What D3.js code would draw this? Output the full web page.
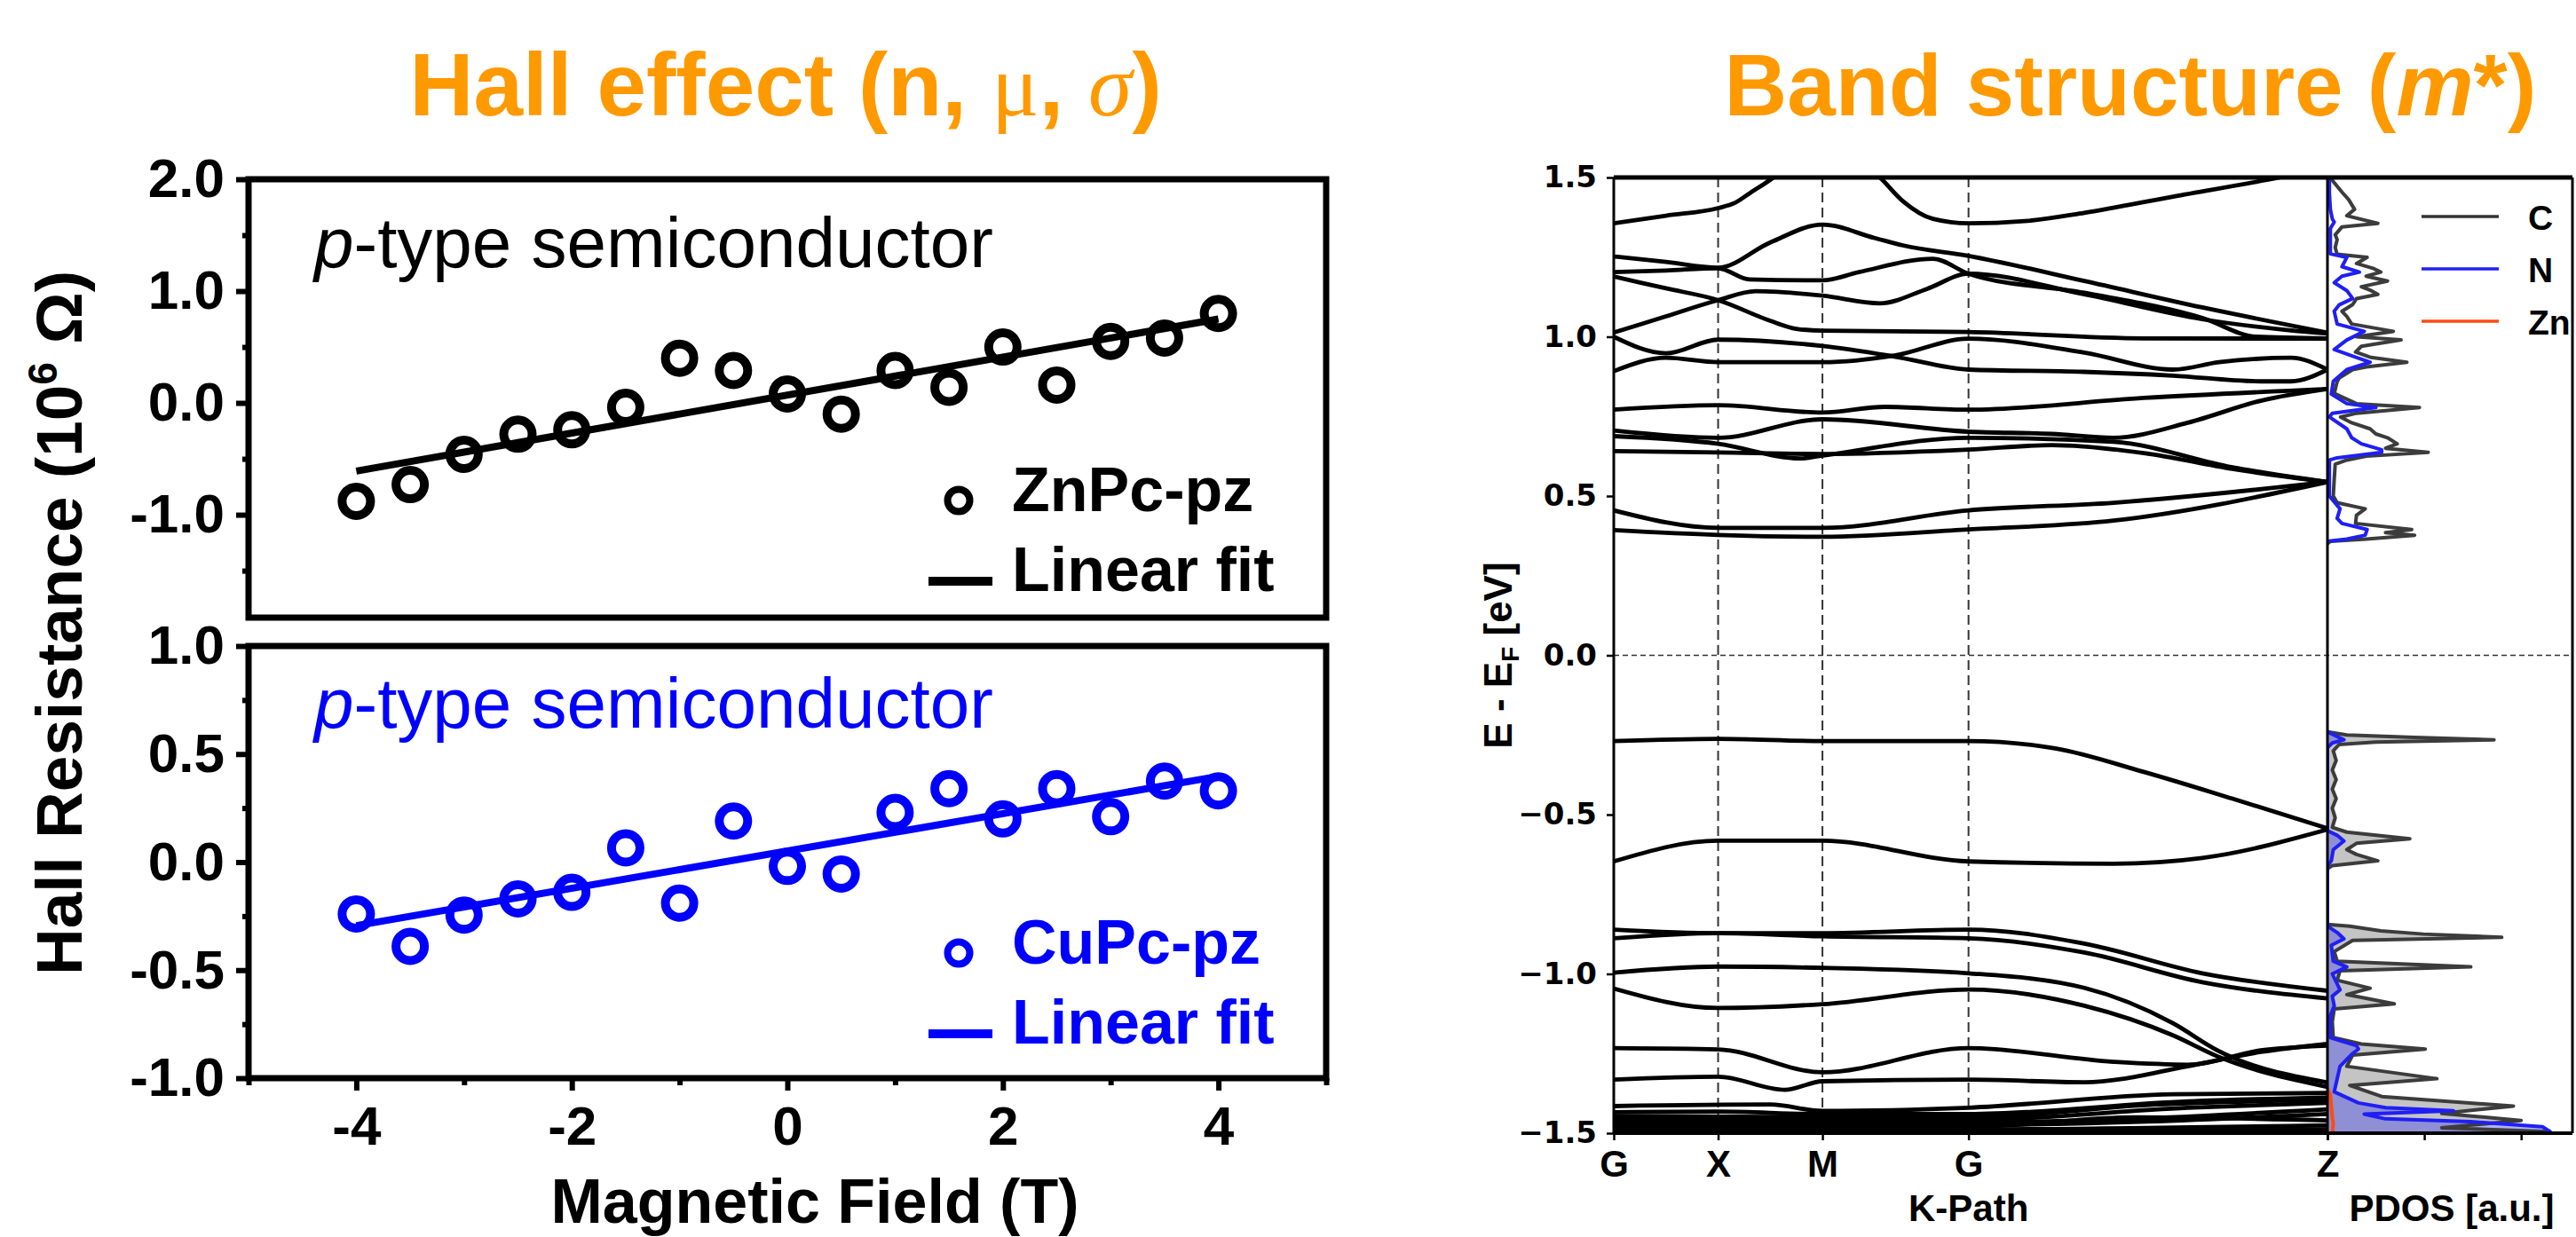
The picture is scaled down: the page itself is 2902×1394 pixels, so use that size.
<!DOCTYPE html>
<html>
<head>
<meta charset="utf-8">
<script src="https://cdn.jsdelivr.net/npm/d3@7"></script>
<style>
  body { margin: 0; background: #fff; }
  svg { display: block; }
</style>
</head>
<body>
<svg id="figure"></svg>
<script>
// ---- Hall effect data ----
const fieldT = [-4, -3.5, -3, -2.5, -2, -1.5, -1, -0.5, 0, 0.5, 1, 1.5, 2, 2.5, 3, 3.5, 4];
const hallZnPc = [-0.88, -0.73, -0.46, -0.28, -0.24, -0.04, 0.40, 0.29, 0.08, -0.10, 0.29, 0.14, 0.50, 0.16, 0.55, 0.58, 0.80];
const hallCuPc = [-0.24, -0.39, -0.245, -0.17, -0.14, 0.066, -0.19, 0.19, -0.02, -0.055, 0.23, 0.34, 0.20, 0.34, 0.21, 0.375, 0.33];
const fitRange = [-4, 4];
const fitZnPc = [-0.61, 0.75];
const fitCuPc = [-0.294, 0.397];
const fieldMajor = [-4, -2, 0, 2, 4];
const fieldMinor = [-5, -3, -1, 1, 3, 5];

// ---- band structure data: [k, E] points, k-path G X M G Z ----
const kNodes = [0, 1, 2, 3.4, 6.84];
const kLabels = ["G", "X", "M", "G", "Z"];
const energyTicks = [-1.5, -1.0, -0.5, 0, 0.5, 1.0, 1.5];
const bandsConduction = [
  [[0,1.356],[0.5,1.38],[1,1.404],[1.16,1.42],[1.3,1.45],[1.53,1.50],[1.75,1.56],[2.2,1.58],[2.55,1.50],[2.77,1.426],[3.06,1.37],[3.4,1.356],[3.94,1.363],[4.51,1.389],[5.36,1.44],[6.38,1.50],[6.84,1.53]],
  [[0,1.252],[0.5,1.235],[1,1.217],[1.5,1.296],[2,1.352],[2.5,1.31],[2.77,1.287],[3.4,1.254],[4.51,1.175],[5.64,1.092],[6.84,1.013]],
  [[0,1.203],[0.5,1.208],[1,1.215],[1.3,1.18],[2,1.177],[2.35,1.203],[3.06,1.245],[3.4,1.198],[4.51,1.138],[5.64,1.059],[6.16,1.0],[6.84,0.995]],
  [[0,1.189],[0.5,1.152],[1,1.115],[1.5,1.05],[1.75,1.025],[2,1.019],[3.4,1.015],[5.08,0.995],[6.84,0.994]],
  [[0,1.013],[0.5,1.064],[1,1.115],[1.36,1.143],[2,1.129],[2.55,1.105],[3.0,1.15],[3.4,1.198],[4.51,1.133],[5.64,1.055],[6.49,1.02],[6.84,1.01]],
  [[0,1.0],[0.5,0.948],[1,0.991],[2,0.971],[2.69,0.938],[3.4,0.897],[4.5,0.89],[5.36,0.878],[6.21,0.86],[6.49,0.86],[6.84,0.897]],
  [[0,0.892],[0.5,0.934],[1,0.92],[2,0.92],[2.69,0.941],[3.4,0.994],[4.51,0.95],[5.36,0.897],[5.8,0.92],[6.49,0.934],[6.84,0.897]],
  [[0,0.771],[1,0.785],[2,0.762],[2.6,0.78],[3.4,0.771],[5.08,0.808],[6.84,0.836]],
  [[0,0.706],[1,0.683],[2,0.741],[3.4,0.702],[4.2,0.695],[4.79,0.683],[5.5,0.73],[6.21,0.80],[6.84,0.836]],
  [[0,0.688],[1,0.664],[1.79,0.618],[2,0.627],[3.4,0.683],[4.79,0.67],[5.93,0.59],[6.84,0.544]],
  [[0,0.641],[1,0.637],[2,0.632],[3.4,0.646],[4.2,0.66],[5.08,0.635],[5.93,0.585],[6.84,0.544]],
  [[0,0.455],[1,0.40],[2,0.40],[3.4,0.455],[4.79,0.479],[6.84,0.544]],
  [[0,0.393],[1,0.378],[2,0.372],[3.4,0.395],[4.79,0.423],[6.84,0.544]]
];
const bandsValence = [
  [[0,-0.269],[1,-0.262],[2,-0.269],[3.4,-0.269],[4.23,-0.292],[5.08,-0.366],[5.93,-0.45],[6.84,-0.543]],
  [[0,-0.647],[1,-0.582],[2,-0.582],[3.4,-0.647],[4.79,-0.654],[5.64,-0.636],[6.84,-0.547]],
  [[0,-0.861],[1,-0.872],[2,-0.872],[3.4,-0.861],[4.51,-0.905],[5.64,-0.998],[6.84,-1.053]],
  [[0,-0.888],[1,-0.872],[2,-0.882],[3.4,-0.888],[4.51,-0.933],[5.64,-1.026],[6.84,-1.077]],
  [[0,-0.996],[1,-0.977],[2,-0.981],[3.4,-0.998],[4.51,-1.044],[5.36,-1.155],[5.78,-1.239],[6.84,-1.341]],
  [[0,-1.046],[1,-1.107],[2,-1.095],[3.4,-1.049],[4.51,-1.1],[5.36,-1.193],[5.78,-1.258],[6.84,-1.355]],
  [[0,-1.233],[1,-1.237],[2,-1.309],[3.4,-1.233],[4.79,-1.276],[5.5,-1.285],[6.2,-1.24],[6.84,-1.225]],
  [[0,-1.332],[1,-1.323],[1.64,-1.364],[2,-1.337],[3.4,-1.332],[4.51,-1.34],[5.5,-1.29],[6.2,-1.245],[6.84,-1.22]],
  [[0,-1.415],[1.5,-1.41],[2,-1.43],[3.4,-1.42],[5.36,-1.378],[6.84,-1.374]],
  [[0,-1.434],[1,-1.432],[2,-1.44],[3.4,-1.44],[5.5,-1.40],[6.84,-1.388]],
  [[0,-1.446],[2,-1.45],[3.4,-1.45],[5.2,-1.41],[6.84,-1.395]],
  [[0,-1.454],[3.4,-1.458],[5.5,-1.42],[6.84,-1.405]],
  [[0,-1.462],[3.4,-1.466],[6.84,-1.425]],
  [[0,-1.47],[3.4,-1.474],[6.84,-1.44]],
  [[0,-1.478],[3.4,-1.48],[5,-1.45],[6.84,-1.46]],
  [[0,-1.486],[3.4,-1.488],[6.84,-1.475]],
  [[0,-1.494],[3.4,-1.494],[6.84,-1.488]],
  [[0,-1.499],[6.84,-1.497]]
];

// ---- PDOS data: [E, density] ----
const pdosCondC = [[1.5,0.05],[1.491,0.05],[1.454,0.15],[1.43,0.22],[1.40,0.28],[1.38,0.2],[1.356,0.52],[1.345,0.15],[1.32,0.08],[1.305,0.1],[1.28,0.08],[1.259,0.1],[1.249,0.41],[1.23,0.3],[1.215,0.47],[1.203,0.55],[1.19,0.4],[1.175,0.62],[1.157,0.35],[1.145,0.45],[1.133,0.52],[1.12,0.3],[1.101,0.26],[1.08,0.15],[1.064,0.2],[1.04,0.25],[1.017,0.68],[1.0,0.3],[0.99,0.76],[0.97,0.35],[0.952,0.29],[0.935,0.45],[0.92,0.82],[0.905,0.4],[0.897,0.26],[0.87,0.12],[0.859,0.1],[0.822,0.07],[0.79,0.3],[0.778,0.95],[0.76,0.3],[0.748,0.135],[0.73,0.25],[0.711,0.44],[0.695,0.5],[0.683,0.62],[0.664,0.72],[0.65,0.6],[0.637,1.04],[0.625,0.4],[0.613,0.2],[0.6,0.08],[0.553,0.07],[0.5,0.06],[0.479,0.1],[0.46,0.39],[0.44,0.3],[0.414,0.29],[0.395,0.87],[0.385,0.6],[0.377,0.90],[0.365,0.4],[0.358,0.03],[0.35,0]];
const pdosCondN = [[1.5,0.02],[1.45,0.02],[1.4,0.03],[1.37,0.05],[1.36,0.07],[1.34,0.03],[1.26,0.03],[1.249,0.2],[1.22,0.15],[1.203,0.33],[1.19,0.15],[1.17,0.07],[1.145,0.2],[1.12,0.26],[1.1,0.12],[1.08,0.07],[1.04,0.1],[1.017,0.38],[0.99,0.2],[0.96,0.07],[0.935,0.3],[0.92,0.44],[0.897,0.2],[0.86,0.06],[0.82,0.04],[0.79,0.2],[0.778,0.5],[0.76,0.05],[0.748,0.02],[0.711,0.2],[0.683,0.25],[0.664,0.35],[0.645,0.56],[0.637,0.56],[0.62,0.1],[0.613,0.02],[0.5,0.02],[0.46,0.13],[0.43,0.1],[0.414,0.15],[0.395,0.41],[0.377,0.39],[0.365,0.2],[0.358,0]];
const pdosValC = [[-0.24,0],[-0.25,0.2],[-0.258,0.9],[-0.265,1.72],[-0.272,0.5],[-0.28,0.12],[-0.3,0.06],[-0.33,0.09],[-0.36,0.05],[-0.39,0.09],[-0.42,0.05],[-0.45,0.09],[-0.48,0.05],[-0.51,0.08],[-0.54,0.05],[-0.555,0.2],[-0.576,0.85],[-0.59,0.3],[-0.61,0.2],[-0.625,0.3],[-0.645,0.52],[-0.66,0.05],[-0.67,0],[-0.845,0],[-0.85,0.23],[-0.865,0.55],[-0.875,0.99],[-0.885,1.80],[-0.895,0.26],[-0.93,0.07],[-0.96,0.1],[-0.978,1.48],[-0.99,0.13],[-1.02,0.1],[-1.045,0.44],[-1.065,0.2],[-1.094,0.69],[-1.11,0.07],[-1.15,0.05],[-1.2,0.06],[-1.22,0.35],[-1.236,1.01],[-1.255,0.26],[-1.29,0.2],[-1.329,1.13],[-1.35,0.23],[-1.385,0.56],[-1.415,1.92],[-1.438,1.18],[-1.46,2.0],[-1.483,1.18],[-1.495,2.28],[-1.5,2.3]];
const pdosValN = [[-0.24,0],[-0.255,0.1],[-0.265,0.17],[-0.275,0.05],[-0.29,0],[-0.55,0],[-0.565,0.1],[-0.583,0.17],[-0.61,0.06],[-0.645,0.04],[-0.66,0],[-0.85,0],[-0.87,0.1],[-0.89,0.17],[-0.91,0.04],[-0.96,0.06],[-0.978,0.2],[-1.0,0.05],[-1.05,0.13],[-1.07,0.05],[-1.1,0.07],[-1.13,0.03],[-1.2,0.03],[-1.225,0.3],[-1.236,0.32],[-1.25,0.26],[-1.29,0.13],[-1.33,0.1],[-1.37,0.07],[-1.405,0.32],[-1.42,0.6],[-1.43,1.3],[-1.44,0.38],[-1.455,0.6],[-1.464,1.48],[-1.48,2.22],[-1.495,2.3],[-1.5,2.3]];
const pdosValZn = [[-1.36,0],[-1.38,0.03],[-1.45,0.05],[-1.47,0.06],[-1.5,0.05]];
const pdosTicks = [0, 1, 2];
const pdosLegend = ["C", "N", "Zn"];

const FONT = "'Liberation Sans', Arial, Helvetica, sans-serif";
const ORANGE = "#ff9900";

const svg = d3.select("#figure")
              .attr("width", 2902)
              .attr("height", 1394)
              .attr("font-family", FONT);

// ---- titles ----
const hallTitle = svg.append("text")
                     .attr("x", 885).attr("y", 130)
                     .attr("text-anchor", "middle")
                     .attr("font-size", 100).attr("font-weight", "bold")
                     .attr("fill", ORANGE);
hallTitle.append("tspan").text("Hall effect (n, ");
hallTitle.append("tspan").attr("font-family", "'Liberation Serif', serif").attr("font-weight", "normal").text("\u03bc");
hallTitle.append("tspan").text(", ");
hallTitle.append("tspan").attr("font-family", "'Liberation Serif', serif").attr("font-style", "italic").attr("font-weight", "normal").text("\u03c3");
hallTitle.append("tspan").text(")");

const bandTitle = svg.append("text")
                     .attr("x", 2400).attr("y", 130)
                     .attr("text-anchor", "middle")
                     .attr("font-size", 98).attr("font-weight", "bold")
                     .attr("fill", ORANGE);
bandTitle.append("tspan").text("Band structure (");
bandTitle.append("tspan").attr("font-style", "italic").text("m");
bandTitle.append("tspan").text("*)");

// ---- Hall panels ----
const xField = d3.scaleLinear().domain([-5, 5]).range([280, 1494]);

function hallPanel(cfg) {
    const y = d3.scaleLinear().domain(cfg.domain).range([cfg.bottom, cfg.top]);
    const g = svg.append("g");

    const majorAxis = g.append("g")
                       .attr("transform", `translate(${xField.range()[0]},0)`)
                       .call(d3.axisLeft(y).tickValues(cfg.majors).tickFormat(d => d.toFixed(1)).tickSize(14).tickPadding(13));
    majorAxis.select(".domain").remove();
    majorAxis.selectAll("line").attr("stroke-width", 6);
    majorAxis.selectAll("text")
             .attr("font-size", 62).attr("font-weight", "bold")
             .attr("font-family", FONT).attr("fill", "#000");

    const minorAxis = g.append("g")
                       .attr("transform", `translate(${xField.range()[0]},0)`)
                       .call(d3.axisLeft(y).tickValues(cfg.minors).tickFormat("").tickSize(7));
    minorAxis.select(".domain").remove();
    minorAxis.selectAll("line").attr("stroke-width", 6);

    // fit line
    g.append("line")
     .attr("x1", xField(fitRange[0])).attr("x2", xField(fitRange[1]))
     .attr("y1", y(cfg.fit[0])).attr("y2", y(cfg.fit[1]))
     .attr("stroke", cfg.color).attr("stroke-width", 8);

    g.append("g")
     .selectAll("circle")
     .data(fieldT.map((t, i) => [t, cfg.values[i]]))
     .join("circle")
     .attr("cx", d => xField(d[0]))
     .attr("cy", d => y(d[1]))
     .attr("r", 16)
     .attr("fill", "none")
     .attr("stroke", cfg.color)
     .attr("stroke-width", 10);

    g.append("rect")
     .attr("x", xField.range()[0]).attr("y", cfg.top)
     .attr("width", xField.range()[1] - xField.range()[0])
     .attr("height", cfg.bottom - cfg.top)
     .attr("fill", "none").attr("stroke", "#000").attr("stroke-width", 7);

    const label = g.append("text")
                   .attr("x", 354).attr("y", cfg.top + cfg.labelDy)
                   .attr("font-size", 80).attr("fill", cfg.color);
    label.append("tspan").attr("font-style", "italic").text("p");
    label.append("tspan").text("-type semiconductor");

    // legend
    g.append("circle")
     .attr("cx", 1080).attr("cy", cfg.legendY)
     .attr("r", 12.5).attr("fill", "none")
     .attr("stroke", cfg.color).attr("stroke-width", 8);
    g.append("text")
     .attr("x", 1140).attr("y", cfg.legendY + 12)
     .attr("font-size", 70).attr("font-weight", "bold").attr("fill", cfg.color)
     .text(cfg.name);
    g.append("line")
     .attr("x1", 1046).attr("x2", 1118)
     .attr("y1", cfg.legendY + 91).attr("y2", cfg.legendY + 91)
     .attr("stroke", cfg.color).attr("stroke-width", 10);
    g.append("text")
     .attr("x", 1140).attr("y", cfg.legendY + 102)
     .attr("font-size", 70).attr("font-weight", "bold").attr("fill", cfg.color)
     .text("Linear fit");

    return y;
}

hallPanel({
    domain: [-1.92, 2], top: 202, bottom: 696,
    majors: [2, 1, 0, -1], minors: [1.5, 0.5, -0.5, -1.5],
    values: hallZnPc, fit: fitZnPc, color: "#000", name: "ZnPc-pz",
    labelDy: 99, legendY: 564
});
hallPanel({
    domain: [-1, 1], top: 728, bottom: 1215,
    majors: [1, 0.5, 0, -0.5, -1], minors: [0.75, 0.25, -0.25, -0.75],
    values: hallCuPc, fit: fitCuPc, color: "#0000ff", name: "CuPc-pz",
    labelDy: 92, legendY: 1074
});

// field axis under the lower panel
const fieldAxis = svg.append("g")
                     .attr("transform", "translate(0,1215)")
                     .call(d3.axisBottom(xField).tickValues(fieldMajor).tickFormat(d => String(d)).tickSize(14).tickPadding(17));
fieldAxis.select(".domain").remove();
fieldAxis.selectAll("line").attr("stroke-width", 6);
fieldAxis.selectAll("text")
         .attr("font-size", 62).attr("font-weight", "bold")
         .attr("font-family", FONT).attr("fill", "#000");
const fieldMinorAxis = svg.append("g")
                          .attr("transform", "translate(0,1215)")
                          .call(d3.axisBottom(xField).tickValues(fieldMinor).tickFormat("").tickSize(8));
fieldMinorAxis.select(".domain").remove();
fieldMinorAxis.selectAll("line").attr("stroke-width", 6);

svg.append("text")
   .attr("x", 918).attr("y", 1378)
   .attr("text-anchor", "middle")
   .attr("font-size", 70).attr("font-weight", "bold")
   .text("Magnetic Field (T)");

const hallYLabel = svg.append("text")
                      .attr("transform", "translate(92,702) rotate(-90)")
                      .attr("text-anchor", "middle")
                      .attr("font-size", 73).attr("font-weight", "bold");
hallYLabel.append("tspan").text("Hall Resistance (10");
hallYLabel.append("tspan").attr("font-size", 46).attr("dy", -28).text("6");
hallYLabel.append("tspan").attr("dy", 28).text(" \u03a9)");

// ---- band structure panel ----
const kX = d3.scaleLinear().domain([0, 6.84]).range([1818, 2622]);
const eY = d3.scaleLinear().domain([-1.5, 1.5]).range([1277, 200]);
const pX = d3.scaleLinear().domain([0, 2.53]).range([2622, 2898]);

const defs = svg.append("defs");
defs.append("clipPath").attr("id", "bandClip")
    .append("rect").attr("x", 1818).attr("y", 200).attr("width", 804).attr("height", 1077);
defs.append("clipPath").attr("id", "pdosClip")
    .append("rect").attr("x", 2622).attr("y", 200).attr("width", 276).attr("height", 1077);

// high symmetry lines and Fermi level
svg.append("g")
   .selectAll("line")
   .data(kNodes.slice(1, 4))
   .join("line")
   .attr("x1", d => kX(d)).attr("x2", d => kX(d))
   .attr("y1", eY(1.5)).attr("y2", eY(-1.5))
   .attr("stroke", "#333").attr("stroke-width", 2)
   .attr("stroke-dasharray", "11,6");
svg.append("line")
   .attr("x1", kX(0)).attr("x2", pX(2.53))
   .attr("y1", eY(0)).attr("y2", eY(0))
   .attr("stroke", "#333").attr("stroke-width", 1.6)
   .attr("stroke-dasharray", "6,4");

const bandLine = d3.line()
                   .x(d => kX(d[0]))
                   .y(d => eY(d[1]))
                   .curve(d3.curveMonotoneX);
svg.append("g")
   .attr("clip-path", "url(#bandClip)")
   .selectAll("path")
   .data(bandsConduction.concat(bandsValence))
   .join("path")
   .attr("d", bandLine)
   .attr("fill", "none")
   .attr("stroke", "#000")
   .attr("stroke-width", 4.8);

// PDOS
const pdosG = svg.append("g").attr("clip-path", "url(#pdosClip)");
const pdosArea = d3.area().y(d => eY(d[0])).x0(pX(0)).x1(d => pX(d[1]));
const pdosLine = d3.line().y(d => eY(d[0])).x(d => pX(d[1]));
pdosG.append("path").attr("d", pdosArea(pdosValC)).attr("fill", "#c4c4c4");
pdosG.append("path").attr("d", pdosArea(pdosValN)).attr("fill", "rgba(70,70,235,0.42)");
[[pdosCondC, "#3c3c3c"], [pdosValC, "#3c3c3c"], [pdosCondN, "#1f1ff5"], [pdosValN, "#1f1ff5"], [pdosValZn, "#ff4a12"]]
    .forEach(([data, color]) => {
        pdosG.append("path")
             .attr("d", pdosLine(data))
             .attr("fill", "none")
             .attr("stroke", color)
             .attr("stroke-width", 4)
             .attr("stroke-linejoin", "round");
    });

// spines
const spines = [
    [kX(0), eY(1.5), pX(2.53), eY(1.5), 5],
    [kX(0), eY(-1.5), pX(2.53), eY(-1.5), 4],
    [kX(0), eY(1.5), kX(0), eY(-1.5), 3],
    [pX(0), eY(1.5), pX(0), eY(-1.5), 3],
    [pX(2.53), eY(1.5), pX(2.53), eY(-1.5), 3]
];
svg.append("g")
   .selectAll("line")
   .data(spines)
   .join("line")
   .attr("x1", d => d[0]).attr("y1", d => d[1])
   .attr("x2", d => d[2]).attr("y2", d => d[3])
   .attr("stroke", "#000").attr("stroke-width", d => d[4]);

const eAxis = svg.append("g")
                 .attr("transform", `translate(${kX(0)},0)`)
                 .call(d3.axisLeft(eY).tickValues(energyTicks).tickFormat(d3.format(".1f")).tickSize(8).tickPadding(11));
eAxis.select(".domain").remove();
eAxis.selectAll("line").attr("stroke-width", 2.5);
eAxis.selectAll("text")
     .attr("font-family", "'DejaVu Sans', sans-serif")
     .attr("font-size", 34).attr("font-weight", "bold").attr("fill", "#000");

const kAxis = svg.append("g")
                 .attr("transform", `translate(0,${eY(-1.5)})`)
                 .call(d3.axisBottom(kX).tickValues(kNodes).tickFormat((d, i) => kLabels[i]).tickSize(8).tickPadding(11));
kAxis.select(".domain").remove();
kAxis.selectAll("line").attr("stroke-width", 2.5);
kAxis.selectAll("text")
     .attr("font-family", FONT)
     .attr("font-size", 42).attr("font-weight", "bold").attr("fill", "#000");

const pAxis = svg.append("g")
                 .attr("transform", `translate(0,${eY(-1.5)})`)
                 .call(d3.axisBottom(pX).tickValues(pdosTicks).tickFormat("").tickSize(8));
pAxis.select(".domain").remove();
pAxis.selectAll("line").attr("stroke-width", 2.5);

svg.append("text")
   .attr("x", kX(3.4)).attr("y", 1376)
   .attr("text-anchor", "middle")
   .attr("font-size", 42).attr("font-weight", "bold")
   .text("K-Path");
svg.append("text")
   .attr("x", 2762).attr("y", 1376)
   .attr("text-anchor", "middle")
   .attr("font-size", 42).attr("font-weight", "bold")
   .text("PDOS [a.u.]");

const eLabel = svg.append("text")
                  .attr("transform", `translate(1703,${eY(0)}) rotate(-90)`)
                  .attr("text-anchor", "middle")
                  .attr("font-size", 44).attr("font-weight", "bold");
eLabel.append("tspan").text("E - E");
eLabel.append("tspan").attr("font-size", 28).attr("dy", 8).text("F");
eLabel.append("tspan").attr("dy", -8).text(" [eV]");

// PDOS legend
const legendColors = ["#333", "#1f1ff5", "#ff4a12"];
const legend = svg.append("g")
                  .selectAll("g")
                  .data(pdosLegend)
                  .join("g")
                  .attr("transform", (d, i) => `translate(2728,${244 + i * 59})`);
legend.append("line")
      .attr("x1", 0).attr("x2", 87)
      .attr("stroke", (d, i) => legendColors[i])
      .attr("stroke-width", 3.5);
legend.append("text")
      .attr("x", 120).attr("y", 15)
      .attr("font-size", 39).attr("font-weight", "bold")
      .text(d => d);
</script>
</body>
</html>
